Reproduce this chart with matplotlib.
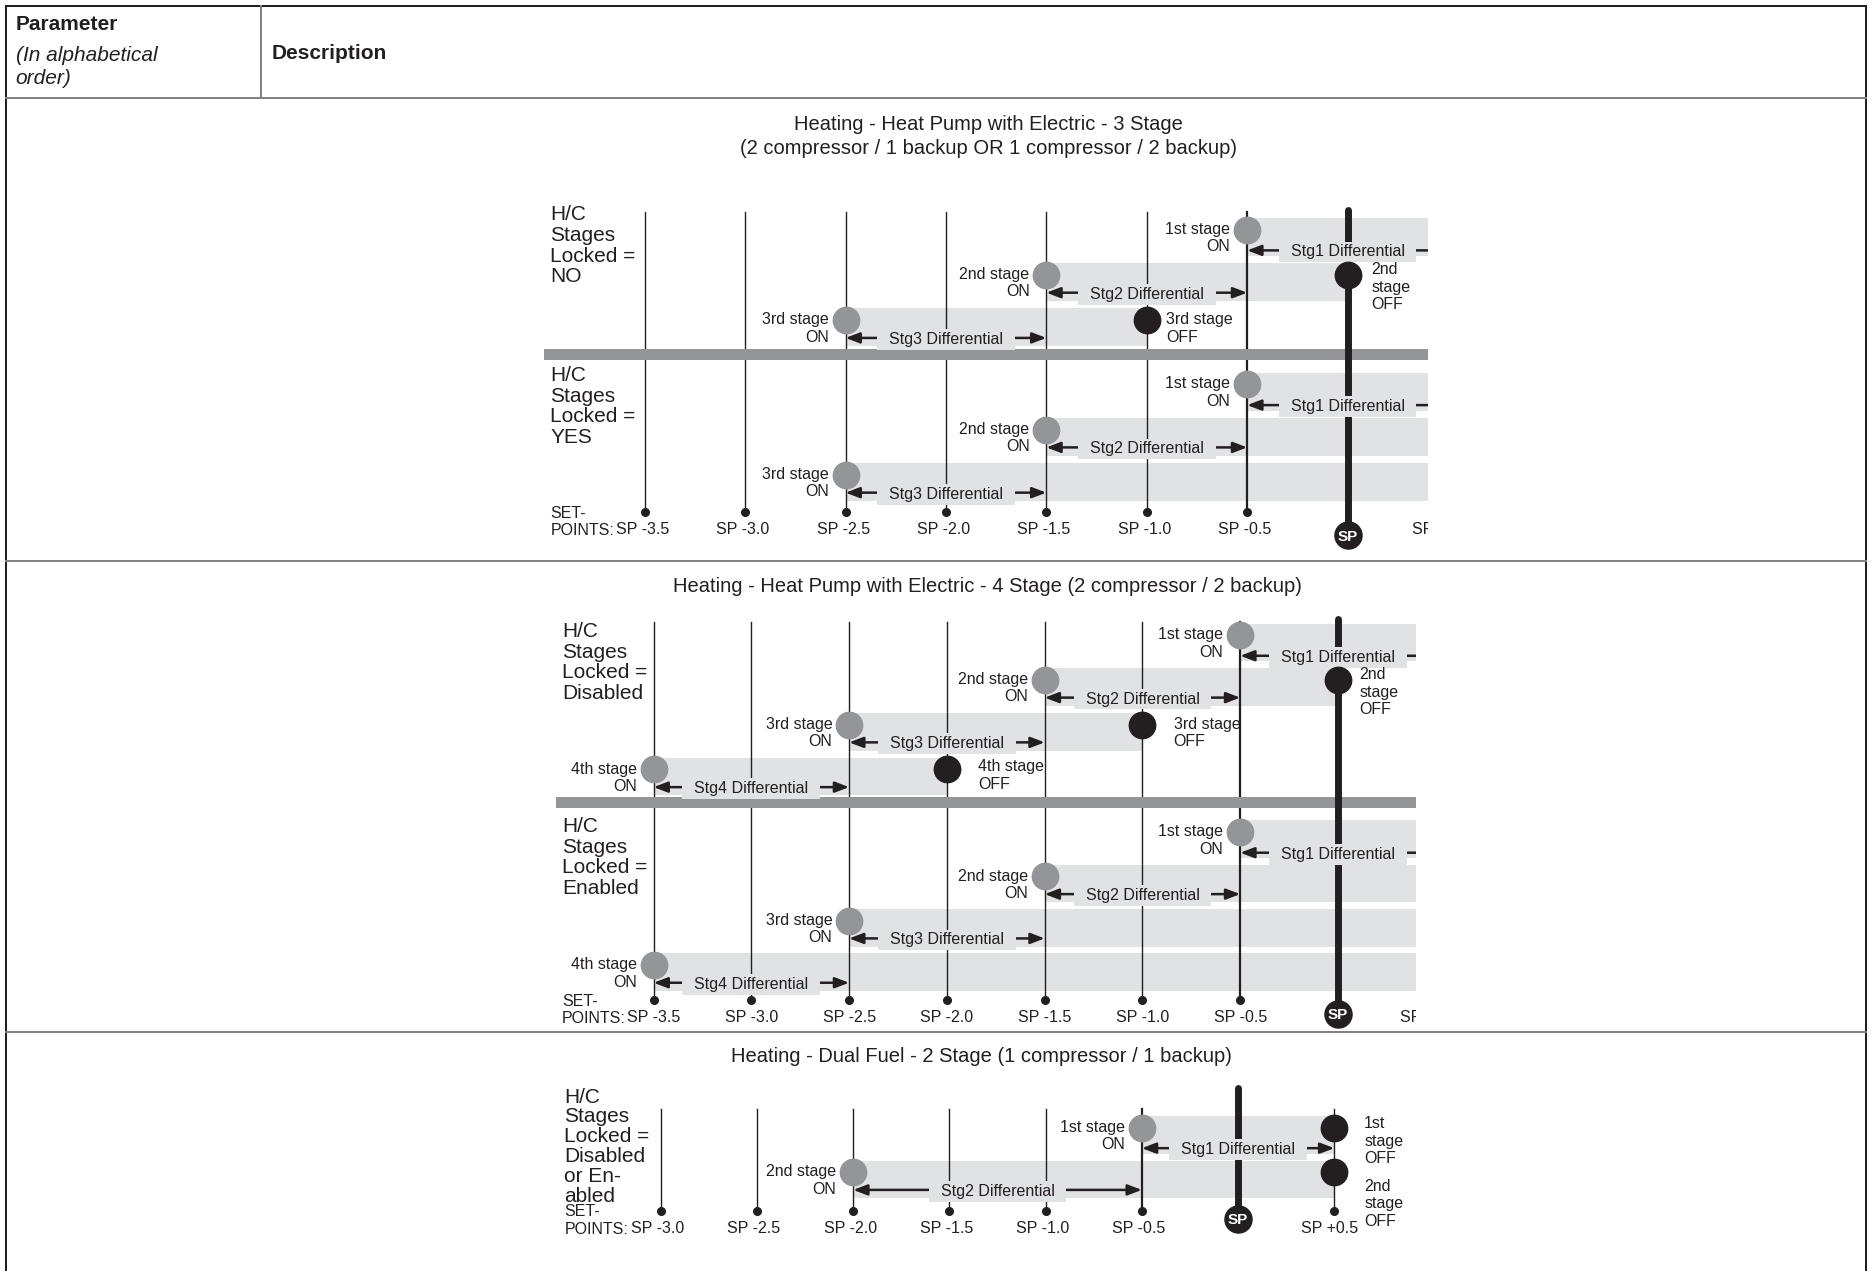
import matplotlib
matplotlib.use("Agg")
import matplotlib.pyplot as plt
from matplotlib.patches import FancyArrowPatch, ArrowStyle

plt.rcParams['font.family'] = ['Liberation Sans', 'DejaVu Sans']

# ---------------------------------------------------------------- data
header_parameter = "Parameter"
header_parameter_note = "(In alphabetical\norder)"
header_description = "Description"

# chart 1 : heat pump with electric, 3 stage
c1_title = ("Heating - Heat Pump with Electric - 3 Stage\n"
            "(2 compressor / 1 backup OR 1 compressor / 2 backup)")
c1_setpoints = [-3.5, -3.0, -2.5, -2.0, -1.5, -1.0, -0.5, 0.5]
c1_setpoint_labels = ["SP -3.5", "SP -3.0", "SP -2.5", "SP -2.0", "SP -1.5",
                      "SP -1.0", "SP -0.5", "SP +0.5"]
c1_stages = ["1st", "2nd", "3rd"]
c1_on = [-0.5, -1.5, -2.5]
c1_off = [0.5, 0.0, -1.0]
c1_differential = [1.0, 1.0, 1.0]
c1_off_labels = ["1st\nstage\nOFF", "2nd\nstage\nOFF", "3rd stage\nOFF"]
c1_modes = ["H/C\nStages\nLocked =\nNO", "H/C\nStages\nLocked =\nYES"]

# chart 2 : heat pump with electric, 4 stage
c2_title = "Heating - Heat Pump with Electric - 4 Stage (2 compressor / 2 backup)"
c2_setpoints = [-3.5, -3.0, -2.5, -2.0, -1.5, -1.0, -0.5, 0.5]
c2_setpoint_labels = ["SP -3.5", "SP -3.0", "SP -2.5", "SP -2.0", "SP -1.5",
                      "SP -1.0", "SP -0.5", "SP +0.5"]
c2_stages = ["1st", "2nd", "3rd", "4th"]
c2_on = [-0.5, -1.5, -2.5, -3.5]
c2_off = [0.5, 0.0, -1.0, -2.0]
c2_differential = [1.0, 1.0, 1.0, 1.0]
c2_off_labels = ["1st\nstage\nOFF", "2nd\nstage\nOFF", "3rd stage\nOFF", "4th stage\nOFF"]
c2_modes = ["H/C\nStages\nLocked =\nDisabled", "H/C\nStages\nLocked =\nEnabled"]

# chart 3 : dual fuel, 2 stage
c3_title = "Heating - Dual Fuel - 2 Stage (1 compressor / 1 backup)"
c3_setpoints = [-3.0, -2.5, -2.0, -1.5, -1.0, -0.5, 0.5]
c3_setpoint_labels = ["SP -3.0", "SP -2.5", "SP -2.0", "SP -1.5", "SP -1.0",
                      "SP -0.5", "SP +0.5"]
c3_stages = ["1st", "2nd"]
c3_on = [-0.5, -2.0]
c3_off = [0.5, 0.5]
c3_differential = [1.0, 1.5]
c3_off_labels = ["1st\nstage\nOFF", "2nd\nstage\nOFF"]
c3_modes = ["H/C\nStages\nLocked =\nDisabled\nor En-\nabled"]

# ---------------------------------------------------------------- style
BAND = '#e1e2e3'
GREY = '#939598'
BLACK = '#231f20'
SEP = '#808285'
DPI = 100
W, H = 1873, 1271
VW = 1565.0            # layout measured on a 1565 px wide view
S = W / VW
VH = H / S
PT = S * 72.0 / DPI    # view px -> points
K = 0.9                # matplotlib line step factor
FS = 11.5


def ls(step_em):
    return step_em / K


def mtext(ax, txt, xy, dx=0.0, dy=0.0, ha='left', fs=FS, step=1.08,
          xycoords='data', **kw):
    """Multi-line text whose first line is vertically centred on xy."""
    ax.annotate(txt, xy=xy, xycoords=xycoords,
                xytext=(dx * PT, -dy * PT + 0.42 * fs),
                textcoords='offset points', fontsize=fs, ha=ha, va='top',
                linespacing=ls(step), color=BLACK, zorder=8, **kw)


fig = plt.figure(figsize=(W / DPI, H / DPI), dpi=DPI)
bg = fig.add_axes([0, 0, 1, 1])
bg.set_xlim(0, VW)
bg.set_ylim(VH, 0)
bg.axis('off')

# table frame
lw_frame = 2.0 * 72 / DPI
bg.plot([4.7, 4.7], [4.7, VH + 5], color=BLACK, lw=lw_frame)
bg.plot([1559, 1559], [4.7, VH + 5], color=BLACK, lw=lw_frame)
bg.plot([4.7, 1559], [4.7, 4.7], color=BLACK, lw=lw_frame)
bg.plot([218, 218], [4.7, 82], color=SEP, lw=lw_frame)
for yy in (82, 469, 862):
    bg.plot([4.7, 1559], [yy, yy], color=SEP, lw=lw_frame)

mtext(bg, header_parameter, (13, 20), fs=15, fontweight='bold')
mtext(bg, header_parameter_note, (13, 46), fs=15, step=1.15, style='italic')
mtext(bg, header_description, (227, 44), fs=15, fontweight='bold')

mtext(bg, c1_title, (826, 103), fs=14.5, step=1.24, ha='center')
mtext(bg, c2_title, (825, 489), fs=14.5, ha='center')
mtext(bg, c3_title, (820, 882), fs=14.5, ha='center')


def panel(L, setpoints, sp_labels, stages, on, off, diff, off_labels, modes,
          locked_modes, off_dx, off_dy):
    x0 = L['sp0'] + L['xlim'][0] * L['ppu']
    x1 = L['sp0'] + L['xlim'][1] * L['ppu']
    y0 = L['row0'] + L['ylim'][0] * L['pitch']
    y1 = L['row0'] + L['ylim'][1] * L['pitch']
    ax = fig.add_axes([x0 / VW, 1 - y1 / VH, (x1 - x0) / VW, (y1 - y0) / VH])
    ax.set_xlim(*L['xlim'])
    ax.set_ylim(L['ylim'][1], L['ylim'][0])
    ax.axis('off')
    xr = L['xlim'][1]

    # setpoint lines, dots and labels
    for sp, lab in zip(setpoints, sp_labels):
        ax.plot([sp, sp], [L['line_top'], L['dot_row']], color=BLACK,
                lw=1.6 if sp == -0.5 else 1.0, zorder=2)
        ax.plot(sp, L['dot_row'], 'o', ms=5.5, color=BLACK, zorder=6)
        dxl = L['lab_dx'] if sp < 0 else L['lab_dx_last']
        ax.annotate(lab, xy=(sp, L['label_row']), xytext=(dxl * PT, 0),
                    textcoords='offset points', fontsize=FS, ha='center',
                    va='center_baseline', color=BLACK, annotation_clip=False,
                    clip_on=True, zorder=8)
    # setpoint line
    ax.plot([0, 0], [L['sp_top'], L['sp_row']], color=BLACK, lw=5,
            solid_capstyle='round', zorder=3.5)
    ax.plot(0, L['sp_row'], 'o', ms=19.5, color=BLACK, zorder=6)
    ax.text(0, L['sp_row'], "SP", fontsize=11, fontweight='bold', color='white',
            ha='center', va='center_baseline', zorder=9)
    # SET-POINTS caption
    mtext(ax, "SET-\nPOINTS:", (0, L['dot_row']), dx=L['mode_dx'],
          xycoords=('axes fraction', 'data'), step=1.08)
    # divider bar
    if L.get('divider'):
        d0, d1 = L['divider']
        ax.axhspan(d0, d1, color=GREY, lw=0, zorder=3)

    for m, (mode, base) in enumerate(zip(modes, L['section_rows'])):
        locked = locked_modes[m]
        mtext(ax, mode, (0, base + L['mode_dy'][m]), dx=L['mode_dx'], fs=15,
              step=L['mode_step'], xycoords=('axes fraction', 'data'))
        for i, st in enumerate(stages):
            top = base + i * L['sec_pitch'][m]
            end = xr + 1.0 if locked else off[i]
            ax.barh(top, end - on[i], left=on[i], height=0.84, align='edge',
                    color=BAND, lw=0, zorder=1)
            yc = top + 0.26
            ax.plot(on[i], yc, 'o', ms=19, color=GREY, zorder=7)
            mtext(ax, f"{st} stage\nON", (on[i], yc), dx=-14, dy=-1, ha='right')
            if not locked and off[i] <= xr:
                ax.plot(off[i], yc, 'o', ms=19, color=BLACK, zorder=7)
                mtext(ax, off_labels[i], (off[i], yc), dx=off_dx[i], dy=off_dy[i])
            ya = top + (0.72 if i == 0 else 0.655)
            arr = FancyArrowPatch((on[i], ya), (on[i] + diff[i], ya),
                                  arrowstyle=ArrowStyle('<|-|>', head_length=0.42,
                                                        head_width=0.16),
                                  mutation_scale=20, lw=1.8, color=BLACK,
                                  shrinkA=0, shrinkB=0, zorder=4)
            ax.add_patch(arr)
            ax.text(on[i] + diff[i] / 2.0, ya, f"  Stg{i + 1} Differential  ",
                    fontsize=FS, ha='center', va='center_baseline', color=BLACK,
                    clip_on=True, zorder=5,
                    bbox=dict(boxstyle='square,pad=0.18', fc=BAND, ec='none'))
    return ax


L1 = dict(sp0=1126, ppu=167.8, xlim=(-4.0, 0.40), row0=182, pitch=37.8,
          ylim=(-0.45, 7.4), section_rows=[0.0, 3.42], sec_pitch=[1.0, 1.0],
          divider=(2.91, 3.15), line_top=-0.13, sp_top=-0.18, dot_row=6.51,
          label_row=6.85, sp_row=7.02, lab_dx=-2, lab_dx_last=-6, mode_dx=5,
          mode_dy=[-0.08, 0.05], mode_step=1.0)
panel(L1, c1_setpoints, c1_setpoint_labels, c1_stages, c1_on, c1_off,
      c1_differential, c1_off_labels, c1_modes, [False, True],
      off_dx=[20, 20, 16], off_dy=[-5, -5, -1])

L2 = dict(sp0=1118, ppu=163.4, xlim=(-4.0, 0.40), row0=521, pitch=37.4,
          ylim=(-0.45, 9.3), section_rows=[0.0, 4.40], sec_pitch=[1.0, 0.99],
          divider=(3.88, 4.12), line_top=-0.03, sp_top=-0.1, dot_row=8.42,
          label_row=8.77, sp_row=8.72, lab_dx=0, lab_dx_last=-6, mode_dx=5,
          mode_dy=[0.16, 0.12], mode_step=1.0)
panel(L2, c2_setpoints, c2_setpoint_labels, c2_stages, c2_on, c2_off,
      c2_differential, c2_off_labels, c2_modes, [False, True],
      off_dx=[18, 18, 26, 26], off_dy=[-5, -5, -1, -3])

L3 = dict(sp0=1034.5, ppu=160.8, xlim=(-3.55, 1.0), row0=932.5, pitch=37.3,
          ylim=(-0.9, 2.9), section_rows=[0.0], sec_pitch=[1.0], divider=None,
          line_top=-0.16, sp_top=-0.63, dot_row=2.13, label_row=2.48, sp_row=2.3,
          lab_dx=-2.5, lab_dx_last=-4, mode_dx=8, mode_dy=[-0.44], mode_step=0.95)
panel(L3, c3_setpoints, c3_setpoint_labels, c3_stages, c3_on, c3_off,
      c3_differential, c3_off_labels, c3_modes, [False],
      off_dx=[25, 25], off_dy=[-4, 11])

fig.savefig("out.png", dpi=DPI)
